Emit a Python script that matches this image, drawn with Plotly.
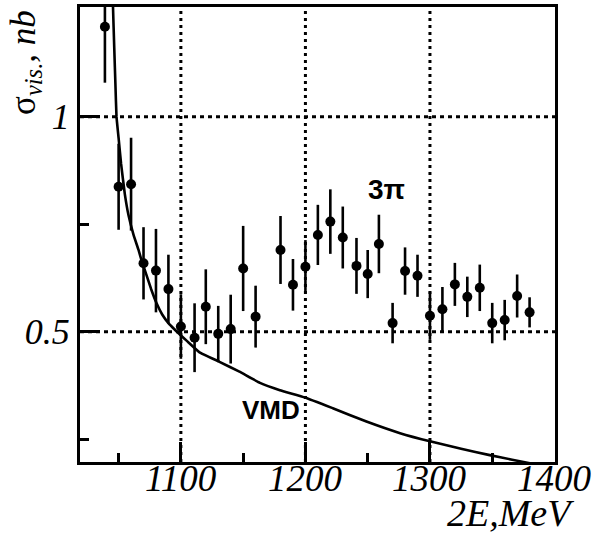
import plotly.graph_objects as go

energy = [1039, 1050, 1060, 1070, 1080, 1090, 1100, 1111, 1120, 1130, 1140, 1150, 1160,
          1180, 1190, 1200, 1210, 1220, 1230, 1241, 1250, 1259, 1270, 1280, 1290, 1300,
          1310, 1320, 1330, 1340, 1350, 1360, 1370, 1380]
sigma = [1.209, 0.837, 0.843, 0.659, 0.642, 0.599, 0.512, 0.486, 0.558, 0.495, 0.506, 0.647, 0.535,
         0.690, 0.609, 0.651, 0.725, 0.756, 0.719, 0.653, 0.634, 0.704, 0.520, 0.641, 0.630, 0.537,
         0.552, 0.610, 0.581, 0.602, 0.520, 0.527, 0.583, 0.545]
sigma_err = [0.13, 0.10, 0.108, 0.084, 0.097, 0.08, 0.075, 0.08, 0.087, 0.065, 0.08, 0.099, 0.072,
             0.079, 0.06, 0.062, 0.07, 0.075, 0.072, 0.065, 0.056, 0.068, 0.047, 0.055, 0.049, 0.056,
             0.052, 0.05, 0.047, 0.054, 0.047, 0.047, 0.05, 0.035]

vmd_energy = [1044.8, 1045.5, 1046.5, 1047.5, 1048.3, 1050, 1052, 1055, 1058, 1062, 1066, 1068.4,
              1072, 1076, 1080.5, 1085, 1090, 1095, 1099, 1105, 1115, 1131, 1147, 1163.5,
              1179.5, 1199.6, 1222, 1249, 1276, 1300, 1325, 1348, 1365, 1382]
vmd_sigma = [1.32, 1.255, 1.16, 1.07, 1.0, 0.95, 0.89, 0.82, 0.77, 0.725, 0.69, 0.666,
             0.635, 0.60, 0.566, 0.54, 0.52, 0.505, 0.494, 0.478, 0.452, 0.43, 0.407, 0.381,
             0.364, 0.347, 0.322, 0.291, 0.264, 0.245, 0.228, 0.213, 0.203, 0.193]

x_ticks = [1100, 1200, 1300, 1400]
x_tick_text = ["1100", "1200", "1300", "1400"]
y_ticks = [0.5, 1.0]
y_tick_text = ["0.5", "1"]
x_grid = [1100, 1200, 1300]
y_grid = [0.5, 1.0]

X_RANGE = [1019, 1400.4]
Y_RANGE = [0.197, 1.255]

serif = "Liberation Serif, Times New Roman, serif"
sans = "Liberation Sans, Arial, sans-serif"

fig = go.Figure()

fig.add_trace(go.Scatter(
    x=vmd_energy, y=vmd_sigma, mode="lines",
    line=dict(color="black", width=2.6, shape="spline", smoothing=0.3),
    hoverinfo="skip", showlegend=False))

fig.add_trace(go.Scatter(
    x=energy, y=sigma, mode="markers",
    marker=dict(color="black", size=10),
    error_y=dict(type="data", array=sigma_err, visible=True, color="black",
                 thickness=2.6, width=0),
    showlegend=False, cliponaxis=True))

shapes = []
for gx in x_grid:
    shapes.append(dict(type="line", xref="x", yref="y", x0=gx, x1=gx, y0=Y_RANGE[0], y1=Y_RANGE[1],
                       line=dict(color="black", width=3, dash="3px,4px"), layer="below"))
for gy in y_grid:
    shapes.append(dict(type="line", xref="x", yref="y", x0=X_RANGE[0], x1=X_RANGE[1], y0=gy, y1=gy,
                       line=dict(color="black", width=3, dash="4px,4px"), layer="below"))

annotations = [
    dict(x=1265, y=0.83, xref="x", yref="y", text="<b>3π</b>", showarrow=False,
         font=dict(family=sans, size=28, color="black")),
    dict(x=1172, y=0.317, xref="x", yref="y", text="<b>VMD</b>", showarrow=False,
         font=dict(family=sans, size=26, color="black")),
    dict(x=0.907, y=-0.112, xref="paper", yref="paper", text="<i>2E,MeV</i>", showarrow=False,
         xanchor="center", yanchor="middle",
         font=dict(family=serif, size=38, color="black")),
    dict(x=-0.116, y=0.879, xref="paper", yref="paper",
         text="σ<sub><i>vis.</i></sub><i>, nb</i>", showarrow=False, textangle=-90,
         xanchor="center", yanchor="middle",
         font=dict(family=serif, size=35, color="black")),
]
for tv, tt in zip(x_ticks, x_tick_text):
    annotations.append(dict(x=tv, y=-0.037, xref="x", yref="paper", text="<i>" + tt + "</i>",
                            showarrow=False, xanchor="center", yanchor="middle",
                            font=dict(family=serif, size=37, color="black")))

fig.update_layout(
    width=592, height=534,
    margin=dict(l=80, r=37, t=7, b=72, autoexpand=False),
    paper_bgcolor="white", plot_bgcolor="white",
    shapes=shapes, annotations=annotations,
    xaxis=dict(range=X_RANGE, showgrid=False, zeroline=False, automargin=False,
               showline=True, linecolor="black", linewidth=3, mirror=True,
               ticks="inside", ticklen=20, tickwidth=3, tickcolor="black",
               tickvals=x_ticks, showticklabels=False,
               minor=dict(ticks="inside", ticklen=9, tickwidth=3, tickcolor="black",
                          tickvals=[1050, 1150, 1250, 1350], showgrid=False)),
    yaxis=dict(range=Y_RANGE, showgrid=False, zeroline=False, automargin=False,
               showline=True, linecolor="black", linewidth=3, mirror=True,
               ticks="inside", ticklen=20, tickwidth=3, tickcolor="black",
               tickvals=y_ticks, ticktext=y_tick_text,
               tickfont=dict(family=serif, size=36, color="black", style="italic"),
               minor=dict(ticks="inside", ticklen=9, tickwidth=3, tickcolor="black",
                          tickvals=[0.25, 0.75], showgrid=False)),
)

fig.write_html("out.html", config={"displayModeBar": False},
               post_script="document.body.style.margin='0';")
